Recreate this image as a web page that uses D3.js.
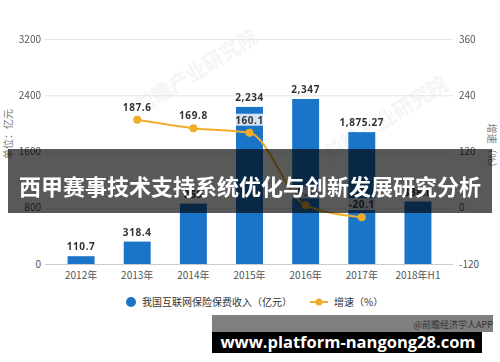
<!DOCTYPE html>
<html>
<head>
<meta charset="utf-8">
<style>
  body { margin: 0; background: #fff; }
  svg { display: block; font-family: "Noto Sans CJK SC", "Noto Sans", sans-serif; }
</style>
</head>
<body>
<div id="chart"></div>
<script src="https://cdn.jsdelivr.net/npm/d3@7"></script>
<script>
// data
var years = ["2012年", "2013年", "2014年", "2015年", "2016年", "2017年", "2018年H1"];
var premium = [110.7, 318.4, 858.9, 2234, 2347, 1875.27, 888.8];
var premiumLabels = ["110.7", "318.4", "859", "2,234", "2,347", "1,875.27", "888.8"];
var growth = [null, 187.6, 169.8, 160.1, 5.1, -20.1, null];
var leftTicks = [0, 800, 1600, 2400, 3200];
var rightTicks = [-120, 0, 120, 240, 360];

var width = 500, height = 362;
var blue = "#1a74c8", orange = "#f0ad2c";
var plain = function (d) { return String(d); };

var svg = d3.select("#chart").append("svg")
    .attr("width", width)
    .attr("height", height);

var x = d3.scaleBand()
    .domain(years)
    .range([53, 446])
    .paddingInner(0.52)
    .paddingOuter(0.26);

var y = d3.scaleLinear().domain([0, 3200]).range([264, 39]);
var y2 = d3.scaleLinear().domain([-120, 360]).range([264, 39]);

// watermark
var wm = svg.append("g").attr("fill", "#e3e7ec").attr("opacity", 0.45)
    .attr("font-weight", "bold");
wm.append("text").attr("transform", "translate(200,78) rotate(-32)")
    .attr("font-size", 20).attr("text-anchor", "middle").text("前瞻产业研究院");
wm.append("text").attr("transform", "translate(390,125) rotate(-32)")
    .attr("font-size", 20).attr("text-anchor", "middle").text("前瞻产业研究院");

// gridlines
svg.append("g")
    .attr("transform", "translate(45,0)")
    .call(d3.axisLeft(y).tickValues(leftTicks).tickSize(-408).tickFormat(""))
    .call(function (g) {
        g.select(".domain").remove();
        g.selectAll("line").attr("stroke", "#e4e4e4");
    });

// left labels
svg.append("g")
    .attr("transform", "translate(45,0)")
    .call(d3.axisLeft(y).tickValues(leftTicks).tickFormat(plain).tickSize(0).tickPadding(4))
    .call(function (g) {
        g.select(".domain").remove();
        g.selectAll("text").attr("fill", "#555").attr("font-size", 10)
            .attr("font-family", "'Noto Sans CJK SC', sans-serif");
    });

// right labels
svg.append("g")
    .attr("transform", "translate(453,0)")
    .call(d3.axisRight(y2).tickValues(rightTicks).tickFormat(plain).tickSize(0).tickPadding(6))
    .call(function (g) {
        g.select(".domain").remove();
        g.selectAll("text").attr("fill", "#555").attr("font-size", 10)
            .attr("font-family", "'Noto Sans CJK SC', sans-serif");
    });

// bottom axis
svg.append("g")
    .attr("transform", "translate(0,264)")
    .call(d3.axisBottom(x).tickSize(0).tickPadding(8))
    .call(function (g) {
        g.select(".domain").attr("d", "M45,0.5H453").attr("stroke", "#ccc");
        g.selectAll("text").attr("fill", "#555").attr("font-size", 10)
            .attr("font-family", "'Noto Sans CJK SC', sans-serif");
    });

// axis titles
svg.append("text")
    .attr("transform", "translate(12,134) rotate(-90)")
    .attr("text-anchor", "middle").attr("font-size", 10).attr("fill", "#777")
    .text("单位：亿元");
svg.append("text")
    .attr("transform", "translate(488,148) rotate(90)")
    .attr("text-anchor", "middle").attr("font-size", 10).attr("fill", "#777")
    .text("增速（%）");

// bars
svg.selectAll(".bar")
    .data(premium)
    .enter().append("rect")
    .attr("class", "bar")
    .attr("x", function (d, i) { return x(years[i]); })
    .attr("y", function (d) { return y(d); })
    .attr("width", x.bandwidth())
    .attr("height", function (d) { return y(0) - y(d); })
    .attr("fill", blue);

svg.selectAll(".barLabel")
    .data(premium)
    .enter().append("text")
    .attr("class", "barLabel")
    .attr("x", function (d, i) { return x(years[i]) + x.bandwidth() / 2; })
    .attr("y", function (d) { return y(d) - 6; })
    .attr("text-anchor", "middle")
    .attr("font-family", "'Noto Sans', sans-serif")
    .attr("font-weight", "bold")
    .attr("font-size", 10)
    .attr("letter-spacing", 0.6)
    .attr("fill", "#333")
    .text(function (d, i) { return premiumLabels[i]; });

// growth line
var pts = growth.map(function (d, i) { return { k: years[i], v: d }; })
    .filter(function (d) { return d.v !== null; });
var cx = function (d) { return x(d.k) + x.bandwidth() / 2; };

svg.append("path")
    .datum(pts)
    .attr("fill", "none")
    .attr("stroke", orange)
    .attr("stroke-width", 2)
    .attr("d", d3.line()
        .x(cx)
        .y(function (d) { return y2(d.v); })
        .curve(d3.curveMonotoneX));

svg.selectAll(".dot")
    .data(pts)
    .enter().append("circle")
    .attr("cx", cx)
    .attr("cy", function (d) { return y2(d.v); })
    .attr("r", 4)
    .attr("fill", orange);

var lbl = svg.selectAll(".lineLabel")
    .data(pts)
    .enter().append("g")
    .attr("transform", function (d) { return "translate(" + cx(d) + "," + (y2(d.v) - 9) + ")"; });
lbl.append("rect")
    .attr("x", -15).attr("y", -10).attr("width", 30).attr("height", 12)
    .attr("fill", "#fff").attr("opacity", 0.8);
lbl.append("text")
    .attr("text-anchor", "middle")
    .attr("font-family", "'Noto Sans', sans-serif")
    .attr("font-weight", "bold")
    .attr("font-size", 10)
    .attr("letter-spacing", 0.6)
    .attr("fill", "#333")
    .text(function (d) { return plain(d.v); });

// legend
var lg = svg.append("g").attr("font-size", 10).attr("fill", "#333");
lg.append("circle").attr("cx", 131).attr("cy", 302).attr("r", 5).attr("fill", blue);
lg.append("text").attr("x", 142).attr("y", 306).text("我国互联网保险保费收入（亿元）");
lg.append("line").attr("x1", 310).attr("x2", 328).attr("y1", 302).attr("y2", 302)
    .attr("stroke", orange).attr("stroke-width", 2);
lg.append("circle").attr("cx", 319).attr("cy", 302).attr("r", 3.5).attr("fill", orange);
lg.append("text").attr("x", 334).attr("y", 306).text("增速（%）");

// overlay banner
svg.append("rect")
    .attr("x", 8).attr("y", 149).attr("width", 484).attr("height", 64)
    .attr("fill", "#000").attr("opacity", 0.65);
svg.append("text")
    .attr("x", 250).attr("y", 195)
    .attr("text-anchor", "middle")
    .attr("font-size", 22)
    .attr("font-weight", "bold")
    .attr("fill", "#fff")
    .text("西甲赛事技术支持系统优化与创新发展研究分析");

// bottom banners
svg.append("rect")
    .attr("x", 212).attr("y", 315).attr("width", 281).attr("height", 17)
    .attr("fill", "#000").attr("opacity", 0.5);
svg.append("text")
    .attr("x", 493).attr("y", 328)
    .attr("text-anchor", "end").attr("font-size", 9).attr("fill", "#333")
    .text("@前瞻经济学人APP");
svg.append("rect")
    .attr("x", 212).attr("y", 332).attr("width", 270).attr("height", 21)
    .attr("fill", "#000");
svg.append("text")
    .attr("x", 348).attr("y", 348)
    .attr("text-anchor", "middle")
    .attr("font-family", "'Open Sans', 'DejaVu Sans', sans-serif")
    .attr("font-weight", "bold")
    .attr("font-size", 16.5)
    .attr("fill", "#fff")
    .text("www.platform-nangong28.com");
</script>
</body>
</html>
